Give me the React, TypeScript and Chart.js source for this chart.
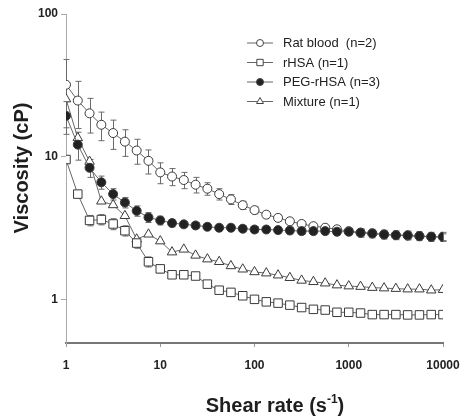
import React, { useEffect, useRef } from "react";
import { Chart, registerables } from "chart.js";
import { drawPoint } from "chart.js/helpers";

Chart.register(...registerables);

// Shear rate (s^-1), 8 points per decade
const shearRates = [
  1, 1.334, 1.778, 2.371, 3.162, 4.217, 5.623, 7.499,
  10, 13.34, 17.78, 23.71, 31.62, 42.17, 56.23, 74.99,
  100, 133.4, 177.8, 237.1, 316.2, 421.7, 562.3, 749.9,
  1000, 1334, 1778, 2371, 3162, 4217, 5623, 7499, 10000,
];

const ratBlood = [
  32, 24.8, 20.2, 16.8, 14.7, 12.8, 11.1, 9.4,
  7.8, 7.3, 6.9, 6.4, 6.0, 5.5, 5.05, 4.6,
  4.25, 3.95, 3.75, 3.55, 3.4, 3.28, 3.2, 3.12,
  3.03, 2.96, 2.92, 2.87, 2.84, 2.82, 2.79, 2.76, 2.75,
];
const ratBloodSD = [
  16, 9, 5.5, 3.8, 3.4, 2.7, 2.2, 1.8,
  1.3, 1.0, 0.9, 0.8, 0.6, 0.5, 0.4, 0.3,
  0.25, 0.2, 0.2, 0.15, 0.15, 0.15, 0.15, 0.15,
  0.15, 0.15, 0.15, 0.15, 0.15, 0.15, 0.15, 0.15, 0.15,
];

const rHSA = [
  9.6, 5.5, 3.6, 3.65, 3.4, 3.05, 2.5, 1.85,
  1.65, 1.5, 1.5, 1.47, 1.29, 1.17, 1.13, 1.07,
  1.01, 0.97, 0.95, 0.92, 0.885, 0.86, 0.85, 0.82,
  0.82, 0.81, 0.79, 0.79, 0.79, 0.786, 0.786, 0.79, 0.79,
];
const rHSASD = [
  0, 0, 0.3, 0.3, 0.3, 0.25, 0.2, 0.15,
  0.1, 0.08, 0, 0, 0, 0, 0, 0,
  0, 0, 0, 0, 0, 0, 0, 0,
  0, 0, 0, 0, 0, 0, 0, 0, 0,
];

const pegRHSA = [
  19.4, 12.2, 8.4, 6.65, 5.5, 4.8, 4.2, 3.78,
  3.6, 3.45, 3.38, 3.32, 3.25, 3.2, 3.2, 3.15,
  3.11, 3.11, 3.08, 3.06, 3.03, 3.03, 3.03, 3.0,
  3.0, 2.95, 2.92, 2.87, 2.84, 2.83, 2.8, 2.77, 2.77,
];
const pegRHSASD = [
  5, 2.7, 1.2, 0.7, 0.5, 0.4, 0.35, 0.3,
  0.25, 0.2, 0.15, 0.15, 0.15, 0.15, 0.15, 0.15,
  0.15, 0.15, 0.15, 0.15, 0.15, 0.15, 0.15, 0.15,
  0.15, 0.2, 0.2, 0.2, 0.2, 0.2, 0.2, 0.2, 0.2,
];

const mixture = [
  25.4, 13.6, 9.3, 4.9, 4.62, 3.88, 2.66, 2.88,
  2.58, 2.16, 2.26, 2.05, 1.93, 1.85, 1.73, 1.64,
  1.57, 1.54, 1.49, 1.43, 1.37, 1.34, 1.31, 1.27,
  1.25, 1.24, 1.22, 1.21, 1.2, 1.19, 1.19, 1.17, 1.18,
];

const seriesLabels = ["Rat blood  (n=2)", "rHSA (n=1)", "PEG-rHSA (n=3)", "Mixture (n=1)"];
const xTicks = [1, 10, 100, 1000, 10000];
const yTicks = [1, 10, 100];
const xTitle = "Shear rate (s";
const xTitleSup = "-1";
const yTitle = "Viscosity (cP)";

const FONT = '"Liberation Sans", Arial, sans-serif';

type Style = {
  pointStyle: string;
  radius: number;
  fill: string;
  legendRadius: number;
  order: number;
};

const styles: Style[] = [
  { pointStyle: "circle", radius: 4.5, fill: "#ffffff", legendRadius: 3.5, order: 1 },
  { pointStyle: "rect", radius: 6, fill: "#ffffff", legendRadius: 4.5, order: 2 },
  { pointStyle: "circle", radius: 4.5, fill: "#222222", legendRadius: 3.5, order: 0 },
  { pointStyle: "triangle", radius: 5.5, fill: "#ffffff", legendRadius: 4, order: 3 },
];

const seriesValues = [ratBlood, rHSA, pegRHSA, mixture];
const seriesErrors = [ratBloodSD, rHSASD, pegRHSASD, null];

const errorBarPlugin = {
  id: "errorBars",
  beforeDatasetsDraw(chart: any) {
    const { ctx } = chart;
    const xs = chart.scales.x;
    const ys = chart.scales.y;
    ctx.save();
    ctx.strokeStyle = "#6a6a6a";
    ctx.lineWidth = 1;
    seriesErrors.forEach((errs, di) => {
      if (!errs) return;
      const vals = seriesValues[di];
      vals.forEach((v, i) => {
        const e = errs[i];
        if (!e) return;
        const x = Math.round(xs.getPixelForValue(shearRates[i])) + 0.5;
        const yTop = ys.getPixelForValue(v + e);
        const yBot = ys.getPixelForValue(Math.max(v - e, 0.05));
        ctx.beginPath();
        ctx.moveTo(x, yTop);
        ctx.lineTo(x, yBot);
        ctx.moveTo(x - 3, yTop);
        ctx.lineTo(x + 3, yTop);
        ctx.moveTo(x - 3, yBot);
        ctx.lineTo(x + 3, yBot);
        ctx.stroke();
      });
    });
    ctx.restore();
  },
};

const decorPlugin = {
  id: "decor",
  afterDraw(chart: any) {
    const { ctx } = chart;
    ctx.save();
    // legend
    const rowY = [43, 62.5, 82, 101.5];
    seriesLabels.forEach((label, i) => {
      const y = rowY[i];
      ctx.strokeStyle = "#666";
      ctx.lineWidth = 1;
      ctx.beginPath();
      ctx.moveTo(247, y);
      ctx.lineTo(273, y);
      ctx.stroke();
      const st = styles[i];
      ctx.fillStyle = st.fill;
      ctx.strokeStyle = "#444";
      ctx.lineWidth = 1;
      drawPoint(ctx, { pointStyle: st.pointStyle, radius: st.legendRadius, rotation: 0, borderWidth: 1 } as any, 260, y);
      ctx.fillStyle = "#222";
      ctx.font = `13px ${FONT}`;
      ctx.textAlign = "left";
      ctx.textBaseline = "middle";
      ctx.fillText(label, 283, y + 0.5);
    });
    // axis titles
    ctx.fillStyle = "#1e1e1e";
    ctx.font = `bold 20px ${FONT}`;
    ctx.textBaseline = "middle";
    ctx.textAlign = "center";
    ctx.save();
    ctx.translate(22, 168);
    ctx.rotate(-Math.PI / 2);
    ctx.fillText(yTitle, 0, 0);
    ctx.restore();

    ctx.textAlign = "left";
    ctx.textBaseline = "alphabetic";
    const big = `bold 20px ${FONT}`;
    const small = `bold 12px ${FONT}`;
    ctx.font = big;
    const w1 = ctx.measureText(xTitle).width;
    const w3 = ctx.measureText(")").width;
    ctx.font = small;
    const w2 = ctx.measureText(xTitleSup).width;
    const total = w1 + w2 + w3;
    const x0 = 275 - total / 2;
    const base = 412;
    ctx.font = big;
    ctx.fillText(xTitle, x0, base);
    ctx.font = small;
    ctx.fillText(xTitleSup, x0 + w1, base - 9);
    ctx.font = big;
    ctx.fillText(")", x0 + w1 + w2, base);
    ctx.restore();
  },
};

export default function App() {
  const canvasRef = useRef<HTMLCanvasElement | null>(null);

  useEffect(() => {
    const canvas = canvasRef.current;
    if (!canvas) return;
    const datasets = seriesValues.map((vals, i) => ({
      label: seriesLabels[i],
      data: vals.map((v, j) => ({ x: shearRates[j], y: v })),
      order: styles[i].order,
      borderColor: "#666666",
      borderWidth: 1,
      backgroundColor: styles[i].fill,
      pointStyle: styles[i].pointStyle,
      pointRadius: styles[i].radius,
      pointBackgroundColor: styles[i].fill,
      pointBorderColor: "#3a3a3a",
      pointBorderWidth: 1,
      tension: 0,
      fill: false,
    }));

    const tickFont = { family: FONT, size: 12, weight: "bold" as const };

    const chart = new Chart(canvas, {
      type: "line",
      data: { datasets },
      plugins: [errorBarPlugin, decorPlugin],
      options: {
        responsive: false,
        animation: false,
        devicePixelRatio: 1,
        layout: { padding: { top: 14, right: 18, left: 0, bottom: 0 } },
        plugins: {
          legend: { display: false },
          tooltip: { enabled: false },
          title: { display: false },
        },
        scales: {
          x: {
            type: "logarithmic",
            min: 1,
            max: 10000,
            afterBuildTicks: (s: any) => {
              s.ticks = xTicks.map((v) => ({ value: v }));
            },
            afterFit: (s: any) => {
              s.height = 77;
              s.paddingLeft = 0;
              s.paddingRight = 0;
            },
            ticks: {
              autoSkip: false,
              maxRotation: 0,
              padding: 11,
              color: "#222",
              font: tickFont,
              callback: (v: any) => String(v),
            },
            grid: {
              drawOnChartArea: false,
              drawTicks: true,
              tickLength: 4,
              color: "#999",
            },
            border: { color: "#777", width: 2 },
          },
          y: {
            type: "logarithmic",
            min: 0.5,
            max: 100,
            afterBuildTicks: (s: any) => {
              s.ticks = yTicks.map((v) => ({ value: v }));
            },
            afterFit: (s: any) => {
              s.width = 66;
              s.paddingTop = 0;
              s.paddingBottom = 0;
            },
            ticks: {
              autoSkip: false,
              padding: 3,
              color: "#222",
              font: tickFont,
              callback: (v: any) => String(v),
            },
            grid: {
              drawOnChartArea: false,
              drawTicks: true,
              tickLength: 5,
              color: "#aaa",
            },
            border: { color: "#aaa", width: 1 },
          },
        },
      } as any,
    });
    return () => chart.destroy();
  }, []);

  return (
    <div style={{ position: "absolute", left: 0, top: 0, width: 461, height: 420, background: "#fff" }}>
      <canvas ref={canvasRef} width={461} height={420} style={{ width: 461, height: 420 }} />
    </div>
  );
}
